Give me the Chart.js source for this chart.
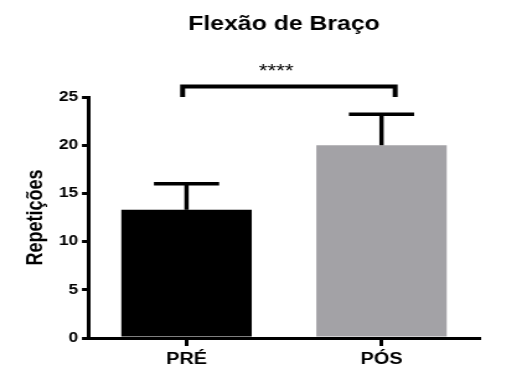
<!DOCTYPE html>
<html>
<head>
<meta charset="utf-8">
<script src="https://cdn.jsdelivr.net/npm/chart.js@4.4.1/dist/chart.umd.min.js"></script>
<style>
  html, body { margin: 0; padding: 0; background: #fff; overflow: hidden; }
  /* drawn at 425px wide and stretched to 527, like the original export */
  #wrap { width: 425px; height: 385px; transform: scaleX(1.24); transform-origin: 0 0; }
</style>
</head>
<body>
<div id="wrap"><canvas id="chart" width="425" height="385" style="width:425px;height:385px"></canvas></div>
<script>
var categories = ['PRÉ', 'PÓS'];
var means = [13.3, 20.0];
var sdUpper = [2.7, 3.2];
var yTicks = [0, 5, 10, 15, 20, 25];
var sigText = '****';

var barColors = ['#000000', '#a3a2a6'];
var font = "'Liberation Sans', Arial, Helvetica, sans-serif";

Chart.defaults.font.family = font;
Chart.defaults.color = '#000';

// upper error whiskers + significance bracket
var annotations = {
    id: 'annotations',
    afterDatasetsDraw: function (chart, args, opts) {
        var ctx = chart.ctx;
        var x = chart.scales.x;
        var y = chart.scales.y;
        var meta = chart.getDatasetMeta(0);

        ctx.save();
        ctx.strokeStyle = '#000';
        ctx.lineWidth = 3.5;
        ctx.lineCap = 'butt';

        meta.data.forEach(function (bar, i) {
            var top = y.getPixelForValue(means[i] + sdUpper[i]);
            var half = bar.width * 0.25;
            ctx.beginPath();
            ctx.moveTo(bar.x, bar.y);
            ctx.lineTo(bar.x, top);
            ctx.stroke();
            ctx.beginPath();
            ctx.moveTo(bar.x - half, top);
            ctx.lineTo(bar.x + half, top);
            ctx.stroke();
        });

        var x1 = x.getPixelForValue(opts.from);
        var x2 = x.getPixelForValue(opts.to);
        var hy = y.getPixelForValue(opts.level);
        var foot = y.getPixelForValue(opts.foot);
        ctx.lineWidth = 4;
        ctx.lineJoin = 'miter';
        ctx.beginPath();
        ctx.moveTo(x1, foot);
        ctx.lineTo(x1, hy);
        ctx.lineTo(x2, hy);
        ctx.lineTo(x2, foot);
        ctx.stroke();

        ctx.fillStyle = '#000';
        ctx.font = '18px ' + font;
        ctx.textAlign = 'center';
        ctx.textBaseline = 'alphabetic';
        ctx.fillText(sigText, x.getPixelForValue(opts.textAt), hy - 9.5);
        ctx.restore();
    }
};

chart = new Chart(document.getElementById('chart'), {
    type: 'bar',
    data: {
        labels: categories,
        datasets: [{
            data: means,
            backgroundColor: barColors,
            borderWidth: 0,
            barPercentage: 0.669,
            categoryPercentage: 1
        }]
    },
    options: {
        responsive: false,
        animation: false,
        events: [],
        layout: {
            padding: { left: 0, right: 38.7, top: 0, bottom: 0 }
        },
        plugins: {
            legend: { display: false },
            tooltip: { enabled: false },
            title: {
                display: true,
                text: 'Flexão de Braço',
                fullSize: false,
                color: '#000',
                font: { size: 20, weight: 'bold' },
                padding: { top: 12, bottom: 61 }
            },
            annotations: {
                from: -0.02,
                to: 1.07,
                level: 26.1,
                foot: 25,
                textAt: 0.46
            }
        },
        scales: {
            x: {
                offset: true,
                afterFit: function (scale) { scale.height = 47; },
                border: { display: true, color: '#000', width: 3 },
                grid: {
                    offset: false,
                    drawOnChartArea: false,
                    drawTicks: true,
                    tickLength: 8,
                    color: '#000',
                    lineWidth: 3
                },
                ticks: {
                    color: '#000',
                    padding: 4,
                    font: { size: 16, weight: 'bold' }
                }
            },
            y: {
                min: 0,
                max: 25,
                afterFit: function (scale) { scale.width = 71.8; },
                afterBuildTicks: function (scale) {
                    scale.ticks = yTicks.map(function (v) { return { value: v }; });
                },
                border: { display: true, color: '#000', width: 3 },
                grid: {
                    drawOnChartArea: false,
                    drawTicks: true,
                    tickLength: 5.7,
                    color: '#000',
                    lineWidth: 3
                },
                ticks: {
                    color: '#000',
                    padding: 3,
                    font: { size: 14, weight: 'bold' }
                },
                title: {
                    display: true,
                    text: 'Repetições',
                    color: '#000',
                    font: { size: 18, weight: 'bold' },
                    padding: { top: 18, bottom: 0 }
                }
            }
        }
    },
    plugins: [annotations]
});
</script>
</body>
</html>
